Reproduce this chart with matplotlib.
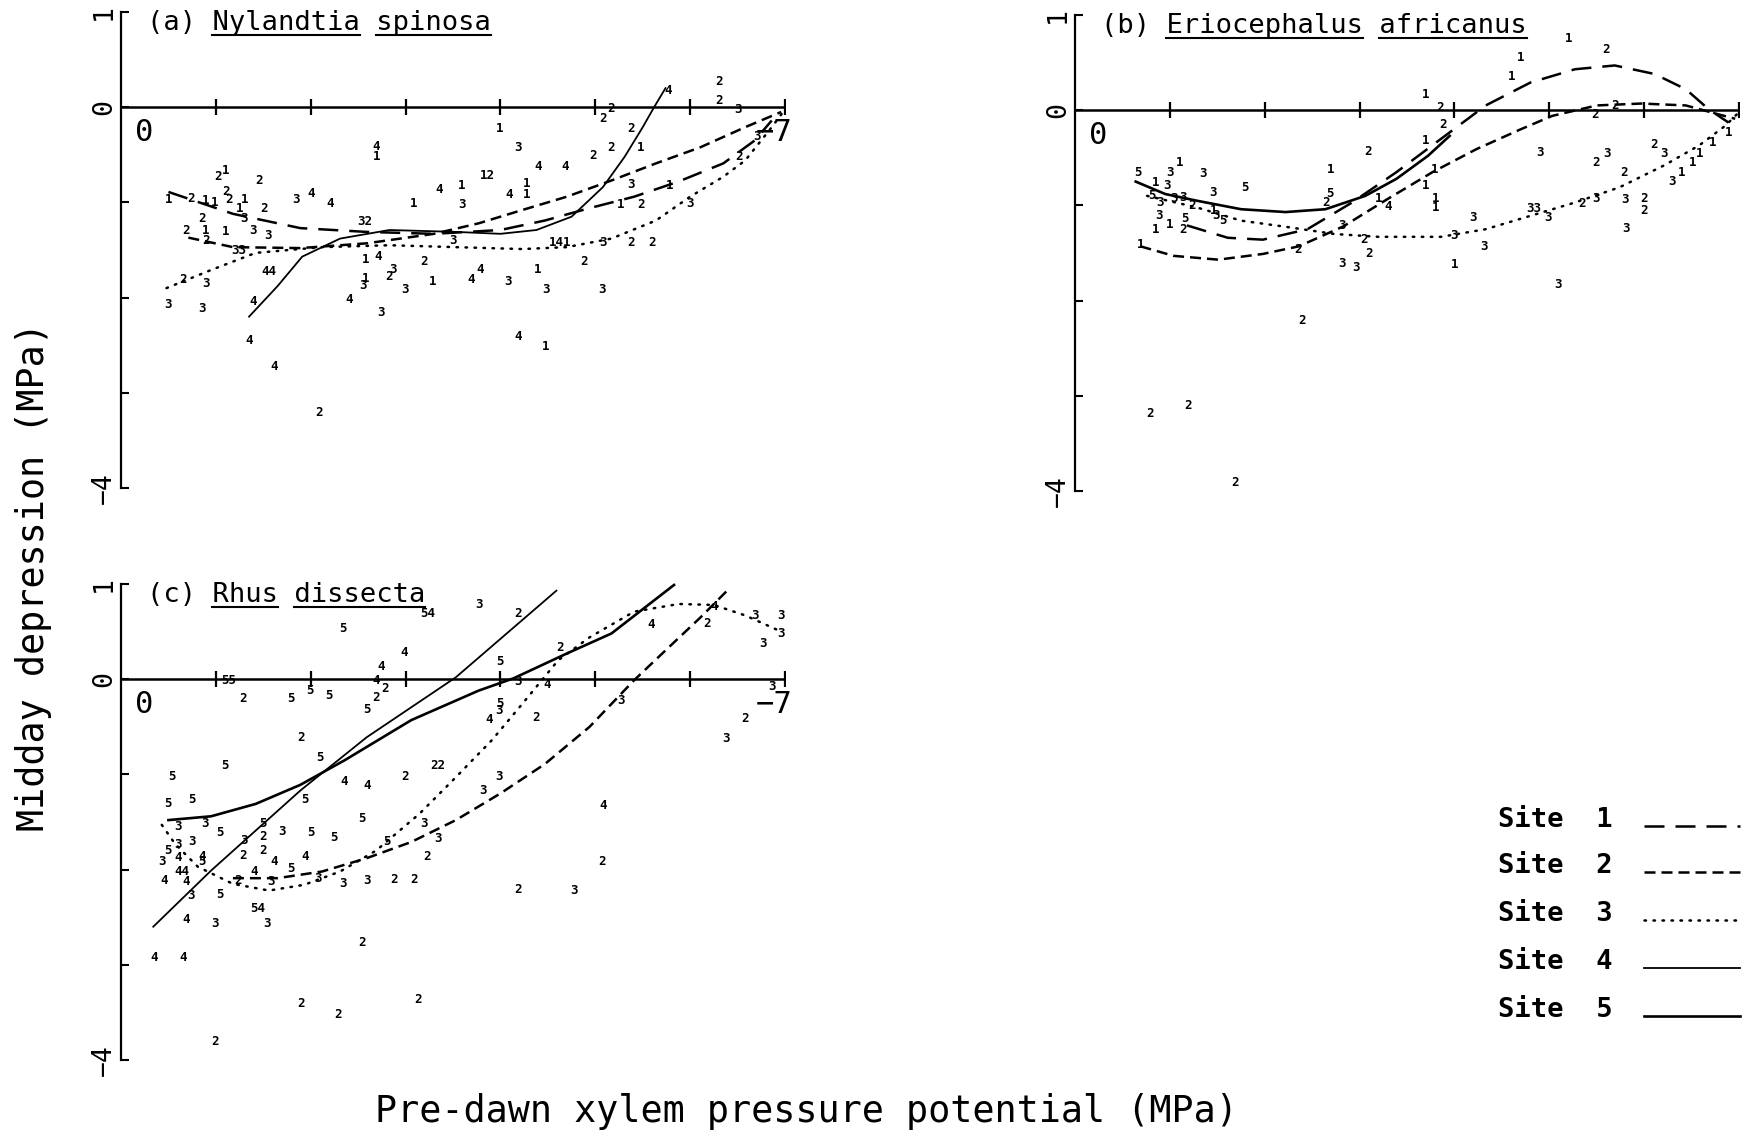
import numpy as np
import matplotlib
matplotlib.use('Agg')
import matplotlib.pyplot as plt
from matplotlib.lines import Line2D

plt.rcParams['font.family'] = ['DejaVu Sans Mono', 'DejaVu Sans']

# ---------------- (a) Nylandtia spinosa ----------------
a_site = ['2', '2', '3', '2', '2', '1', '2', '3', '4', '1', '2', '1', '2', '4', '4', '12', '1', '4',
          '3', '4', '1', '1', '1', '4', '3', '4', '2', '2', '1', '1', '2', '1', '1', '2', '1', '2',
          '2', '1', '2', '3', '2', '1', '1', '3', '3', '2', '33', '32', '3', '1', '4', '2', '141', '3',
          '2', '2', '2', '4', '4', '3', '1', '3', '3', '1', '3', '2', '1', '3', '3', '3', '4', '2',
          '3', '3', '3', '4', '44', '4', '4', '2', '4', '1', '4', '2', '3', '1', '3', '1', '2', '3']
a_pre = [-6.30, -6.30, -6.50, -5.08, -5.17, -3.99, -5.38, -4.19, -2.69, -2.69, -5.17, -5.48, -4.98,
         -4.40, -4.68, -3.86, -3.59, -3.35, -3.59, -4.09, -4.28, -4.28, -3.08, -2.20, -1.85, -2.00,
         -1.46, -1.02, -1.10, -0.50, -0.74, -0.89, -0.99, -1.14, -1.30, -1.11, -1.51, -1.25, -0.85,
         -1.30, -0.69, -0.89, -1.10, -1.39, -1.55, -0.90, -1.24, -2.57, -3.50, -2.58, -2.71, -3.19,
         -4.63, -5.08, -5.38, -5.60, -4.88, -3.79, -3.69, -4.08, -4.39, -4.48, -5.07, -3.29, -2.87,
         -2.83, -2.58, -2.55, -2.99, -2.74, -2.40, -0.65, -0.90, -0.50, -0.85, -1.39, -1.56, -1.35,
         -1.61, -2.09, -4.19, -4.48, -5.77, -6.51, -6.70, -5.78, -5.38, -5.27, -5.48, -6.00]
a_mid = [0.27, 0.07, -0.02, -0.12, -0.01, -0.22, -0.22, -0.42, -0.41, -0.52, -0.42, -0.42, -0.51,
         -0.62, -0.62, -0.72, -0.82, -0.86, -1.02, -0.92, -0.92, -0.80, -1.01, -1.01, -0.97, -0.91,
         -0.77, -0.73, -0.66, -0.97, -0.96, -0.98, -1.00, -0.97, -0.97, -0.89, -1.06, -1.06, -1.17,
         -1.17, -1.29, -1.29, -1.31, -1.30, -1.35, -1.40, -1.50, -1.20, -1.40, -1.60, -1.57, -1.62,
         -1.42, -1.42, -1.42, -1.42, -1.62, -1.71, -1.81, -1.83, -1.71, -1.91, -1.92, -1.83, -1.70,
         -1.78, -1.80, -1.87, -1.91, -2.16, -2.02, -1.81, -1.85, -2.07, -2.11, -2.04, -1.73, -2.45,
         -2.72, -3.21, -2.41, -2.51, 0.18, -0.52, -0.31, -0.82, -0.81, -1.02, -1.02, -1.01]

a1_x = [-0.50, -1.18, -1.89, -2.59, -3.30, -4.00, -4.47, -4.94, -5.41, -5.88, -6.35, -6.68, -6.86]
a1_y = [-0.89, -1.12, -1.27, -1.31, -1.33, -1.29, -1.19, -1.06, -0.94, -0.78, -0.59, -0.35, -0.14]
a2_x = [-0.71, -1.18, -1.89, -2.59, -3.30, -3.77, -4.23, -4.70, -5.17, -5.64, -6.11, -6.58, -6.96]
a2_y = [-1.37, -1.47, -1.48, -1.43, -1.33, -1.22, -1.08, -0.94, -0.77, -0.59, -0.42, -0.21, -0.05]
a3_x = [-0.48, -0.95, -1.42, -2.12, -2.83, -3.53, -4.23, -4.70, -5.17, -5.64, -6.00, -6.35, -6.58,
        -6.86, -6.98]
a3_y = [-1.90, -1.71, -1.53, -1.47, -1.45, -1.47, -1.49, -1.47, -1.38, -1.19, -0.94, -0.73, -0.56,
        -0.21, -0.05]
a4_x = [-1.35, -1.65, -1.91, -2.31, -2.83, -3.53, -4.00, -4.38, -4.75, -5.08, -5.31, -5.50, -5.62, -5.74]
a4_y = [-2.20, -1.88, -1.57, -1.38, -1.29, -1.31, -1.33, -1.29, -1.15, -0.84, -0.52, -0.21, 0.00, 0.20]

# ---------------- (b) Eriocephalus africanus ----------------
b_site = ['1', '2', '1', '1', '1', '2', '2', '2', '2', '1', '2', '1', '3', '2', '3', '2', '2', '3',
          '1', '1', '1', '3', '1', '1', '1', '1', '4', '1', '5', '2', '5', '3', '1', '3', '3', '5',
          '1', '3', '5', '3', '3', '3', '2', '3', '1', '1', '2', '5', '3', '5', '1', '1', '3', '2',
          '2', '2', '3', '3', '3', '3', '3', '1', '33', '3', '2', '3', '3', '2', '2', '3', '3', '2',
          '2', '2', '2', '1', '1']
b_pre = [-5.20, -5.60, -4.70, -4.60, -3.70, -3.85, -3.88, -5.48, -5.69, -3.70, -3.09, -2.69, -4.90,
         -5.49, -5.61, -5.79, -6.10, -6.21, -6.59, -6.51, -6.39, -6.29, -3.79, -3.70, -3.80, -3.80,
         -3.30, -3.20, -2.69, -2.65, -0.66, -1.00, -1.10, -1.35, -1.46, -1.79, -0.85, -0.97, -0.81,
         -0.90, -1.04, -1.14, -1.23, -0.89, -0.85, -1.00, -1.14, -1.16, -1.49, -1.56, -1.46, -0.69,
         -2.82, -3.05, -3.10, -2.35, -2.81, -2.96, -4.00, -4.20, -4.31, -4.00, -4.84, -4.99, -5.34,
         -5.49, -5.80, -6.00, -6.00, -5.81, -5.09, -2.39, -0.79, -1.19, -1.69, -6.72, -6.89]
b_mid = [0.75, 0.64, 0.55, 0.35, 0.17, 0.03, -0.15, -0.04, 0.05, -0.32, -0.43, -0.62, -0.44,
         -0.55, -0.45, -0.65, -0.36, -0.45, -0.45, -0.55, -0.65, -0.75, -0.62, -0.79, -0.93, -1.02,
         -1.01, -0.93, -0.88, -0.97, -0.65, -0.65, -0.55, -0.66, -0.86, -0.81, -0.76, -0.79, -0.90,
         -0.97, -0.93, -0.92, -1.00, -1.11, -1.25, -1.20, -1.25, -1.14, -1.11, -1.16, -1.05, -1.41,
         -1.21, -1.36, -1.51, -1.46, -1.61, -1.65, -1.32, -1.13, -1.43, -1.62, -1.03, -1.13, -0.98,
         -0.93, -0.94, -0.93, -1.05, -1.24, -1.83, -2.21, -3.19, -3.10, -3.91, -0.34, -0.23]

b1_x = [-1.18, -1.61, -1.98, -2.45, -2.92, -3.39, -3.86, -4.33, -4.80, -5.27, -5.69, -6.11, -6.44,
        -6.68, -6.89]
b1_y = [-1.21, -1.34, -1.36, -1.25, -0.97, -0.65, -0.30, 0.05, 0.29, 0.43, 0.47, 0.38, 0.22, 0.01, -0.13]
b2_x = [-0.69, -1.04, -1.51, -1.98, -2.36, -2.83, -3.30, -3.77, -4.23, -4.70, -5.03, -5.50, -5.97,
        -6.44, -6.77, -6.96]
b2_y = [-1.43, -1.53, -1.57, -1.51, -1.43, -1.22, -0.93, -0.65, -0.41, -0.20, -0.06, 0.05, 0.07,
        0.05, -0.04, -0.09]
b3_x = [-0.76, -1.28, -1.75, -2.26, -2.73, -3.20, -3.86, -4.33, -4.80, -5.27, -5.74, -6.21, -6.58,
        -6.86, -6.98]
b3_y = [-0.90, -1.02, -1.16, -1.23, -1.30, -1.33, -1.33, -1.25, -1.11, -0.97, -0.81, -0.58, -0.37,
        -0.16, -0.04]
b5_x = [-0.64, -0.95, -1.28, -1.75, -2.22, -2.64, -3.06, -3.39, -3.72, -3.95]
b5_y = [-0.75, -0.88, -0.95, -1.04, -1.07, -1.04, -0.90, -0.72, -0.48, -0.27]

# ---------------- (c) Rhus dissecta ----------------
c_site = ['3', '2', '54', '5', '4', '4', '5', '2', '4', '2', '3', '3', '3', '3', '4', '55', '2', '5',
          '5', '5', '4', '2', '2', '5', '5', '3', '4', '2', '3', '4', '3', '2', '3', '3', '2', '5',
          '5', '5', '4', '4', '2', '22', '3', '3', '4', '5', '5', '5', '5', '3', '3', '5', '2', '2',
          '2', '3', '2', '2', '2', '2', '2', '4', '4', '4', '3', '3', '54', '3', '5', '4', '44', '4',
          '3', '4', '5', '3', '3', '4', '5', '3', '3', '5', '3', '2', '2', '5', '3', '2', '5', '5',
          '4', '4', '4', '2', '3', '3', '3', '3', '2', '2', '5']
c_pre = [-3.77, -4.18, -3.23, -2.34, -2.99, -2.74, -3.99, -4.63, -5.59, -6.18, -6.68, -6.96, -6.77,
         -6.96, -6.25, -1.14, -1.29, -1.79, -1.99, -2.19, -2.69, -2.78, -2.69, -2.59, -3.99, -3.99,
         -3.88, -4.38, -4.19, -4.49, -5.27, -6.58, -6.38, -6.86, -1.90, -2.10, -1.10, -0.54, -2.35,
         -2.59, -2.99, -3.34, -3.99, -3.82, -5.08, -0.50, -0.75, -1.94, -2.54, -3.19, -3.34, -2.80,
         -3.23, -5.07, -4.18, -4.78, -2.54, -1.90, -2.29, -3.13, -0.99, -0.35, -0.65, -0.69, -0.99,
         -1.54, -1.44, -0.74, -1.04, -0.45, -0.64, -0.69, -0.43, -0.60, -0.50, -0.60, -0.75, -0.85,
         -0.85, -0.60, -0.89, -1.04, -1.30, -1.29, -1.50, -1.50, -1.70, -1.50, -2.00, -2.25, -1.61,
         -1.94, -1.40, -1.23, -1.58, -2.08, -2.34, -2.59, -2.88, -3.09, -1.79]
c_mid = [0.78, 0.69, 0.69, 0.53, 0.28, 0.13, 0.19, 0.33, 0.57, 0.58, 0.67, 0.67, 0.37, 0.48, 0.76,
         -0.01, -0.20, -0.20, -0.12, -0.17, -0.01, -0.10, -0.19, -0.32, -0.26, -0.33, -0.42, -0.40,
         -0.02, -0.06, -0.22, -0.41, -0.62, -0.08, -0.61, -0.82, -0.91, -1.02, -1.07, -1.12, -1.02,
         -0.91, -1.02, -1.17, -1.33, -1.31, -1.26, -1.26, -1.46, -1.52, -1.67, -1.71, -1.86, -1.91,
         -2.21, -2.22, -2.77, -3.41, -3.52, -3.36, -3.81, -2.92, -2.92, -2.52, -2.57, -2.57, -2.41,
         -2.27, -2.26, -2.11, -2.02, -2.13, -1.92, -1.87, -1.80, -1.74, -1.71, -1.86, -1.92, -1.55,
         -1.52, -1.61, -1.69, -1.85, -1.80, -1.52, -1.60, -1.65, -1.61, -1.66, -1.92, -1.86, -2.02,
         -2.11, -2.12, -2.09, -2.15, -2.11, -2.10, -2.10, -1.99]

c2_x = [-1.18, -1.65, -2.12, -2.59, -3.06, -3.53, -4.00, -4.47, -4.94, -5.41, -5.78, -6.11, -6.39]
c2_y = [-2.09, -2.09, -2.02, -1.88, -1.71, -1.48, -1.20, -0.89, -0.50, -0.01, 0.34, 0.65, 0.93]
c3_x = [-0.43, -0.57, -0.81, -1.18, -1.56, -1.93, -2.31, -2.69, -3.15, -3.53, -3.91, -4.23, -4.61,
        -4.94, -5.41, -5.88, -6.25, -6.58, -6.96]
c3_y = [-1.53, -1.73, -1.97, -2.15, -2.22, -2.16, -2.02, -1.80, -1.41, -1.03, -0.64, -0.26, 0.20,
        0.44, 0.71, 0.79, 0.78, 0.67, 0.50]
c4_x = [-0.34, -0.95, -1.89, -2.59, -3.53, -4.59]
c4_y = [-2.60, -2.01, -1.17, -0.61, 0.02, 0.93]
c5_x = [-0.50, -0.95, -1.42, -1.89, -2.36, -3.06, -3.77, -4.14, -4.70, -5.17, -5.83]
c5_y = [-1.48, -1.44, -1.31, -1.11, -0.85, -0.43, -0.12, 0.01, 0.27, 0.48, 0.99]

sites = [1, 2, 3, 4, 5]

# line style for each site's fitted curve
STYLE = {
    1: dict(ls=(0, (8, 4.4)), lw=1.8),
    2: dict(ls=(0, (4.4, 2.4)), lw=1.8),
    3: dict(ls=(0, (0.6, 3.0)), lw=1.8, dash_capstyle='round'),
    4: dict(ls='-', lw=1.3),
    5: dict(ls='-', lw=1.9),
}

W, H = 1744, 1142
fig = plt.figure(figsize=(W / 100, H / 100), dpi=100)


def px_rect(x0, y_top, x1, y_bot):
    return [x0 / W, 1 - y_bot / H, (x1 - x0) / W, (y_bot - y_top) / H]


ax_a = fig.add_axes(px_rect(121, 12, 785, 488))
ax_b = fig.add_axes(px_rect(1075, 15, 1739, 491))
ax_c = fig.add_axes(px_rect(121, 584, 785, 1060))

titles = []


def setup(ax, tag, species, end_label=True):
    ax.set_xlim(0, -7)
    ax.set_ylim(-4, 1)
    ax.patch.set_visible(False)
    for s in ['top', 'right', 'bottom']:
        ax.spines[s].set_visible(False)
    ax.spines['left'].set_linewidth(1.6)
    ax.set_xticks([])
    ax.set_yticks([1, 0, -1, -2, -3, -4])
    ax.set_yticklabels(['1', '0', '', '', '', '\u22124'], rotation=90, fontsize=19, va='center')
    ax.tick_params(axis='y', direction='in', length=6, width=1.5, pad=3)
    # horizontal zero line with cross ticks
    ax.axhline(0, color='k', lw=1.8)
    ax.plot(np.arange(-1, -8, -1), np.zeros(7), ls='none', marker='|', ms=11, mew=1.6, color='k')
    ax.text(-0.24, -0.27, '0', fontsize=22, ha='center', va='center')
    if end_label:
        ax.text(-6.88, -0.27, '\u22127', fontsize=22, ha='center', va='center')
    t = ax.text(0.039, 0.963, f'{tag} {species}', transform=ax.transAxes,
                fontsize=19.5, ha='left', va='baseline')
    titles.append((ax, t))


setup(ax_a, '(a)', 'Nylandtia spinosa')
setup(ax_b, '(b)', 'Eriocephalus africanus', end_label=False)
setup(ax_c, '(c)', 'Rhus dissecta')


def digits(ax, labels, xs, ys):
    for s, x, y in zip(labels, xs, ys):
        ax.text(x, y, s, fontsize=9, fontweight='bold', ha='center', va='center', clip_on=False)


digits(ax_a, a_site, a_pre, a_mid)
digits(ax_b, b_site, b_pre, b_mid)
digits(ax_c, c_site, c_pre, c_mid)

for ax, site, xs, ys in [(ax_a, 1, a1_x, a1_y), (ax_a, 2, a2_x, a2_y), (ax_a, 3, a3_x, a3_y),
                         (ax_a, 4, a4_x, a4_y),
                         (ax_b, 1, b1_x, b1_y), (ax_b, 2, b2_x, b2_y), (ax_b, 3, b3_x, b3_y),
                         (ax_b, 5, b5_x, b5_y),
                         (ax_c, 2, c2_x, c2_y), (ax_c, 3, c3_x, c3_y), (ax_c, 4, c4_x, c4_y),
                         (ax_c, 5, c5_x, c5_y)]:
    st = STYLE[site]
    ax.plot(xs, ys, color='k', linestyle=st['ls'], lw=st['lw'],
            dash_capstyle=st.get('dash_capstyle', 'butt'), clip_on=False)

# underline species names word by word (monospace -> fixed char width)
renderer = fig.canvas.get_renderer()
for ax, t in titles:
    txt = t.get_text()
    bb = t.get_window_extent(renderer=renderer)
    cw = bb.width / len(txt)
    base_y = ax.transAxes.transform(t.get_position())[1] - 5
    pos = 0
    for k, word in enumerate(txt.split(' ')):
        if k > 0:
            x0 = bb.x0 + pos * cw
            x1 = x0 + len(word) * cw
            fig.add_artist(Line2D([x0 / W, x1 / W], [base_y / H] * 2,
                                  transform=fig.transFigure, color='k', lw=1.5))
        pos += len(word) + 1

# legend on the lower right
rows = [820, 866, 914, 962, 1010]
for site, yr in zip(sites, rows):
    fig.text(1498 / W, 1 - yr / H, f'Site  {site}', fontsize=19.5, fontweight='bold',
             ha='left', va='center')
    st = STYLE[site]
    fig.add_artist(Line2D([1644 / W, 1740 / W], [1 - (yr + 6) / H] * 2, transform=fig.transFigure,
                          color='k', linestyle=st['ls'], lw=st['lw'],
                          dash_capstyle=st.get('dash_capstyle', 'butt')))

fig.text(806 / W, 1 - 1112 / H, 'Pre-dawn xylem pressure potential (MPa)', fontsize=26.5,
         ha='center', va='center')
fig.text(34 / W, 1 - 577 / H, 'Midday depression (MPa)', fontsize=26.5, rotation=90,
         ha='center', va='center')

fig.savefig('out.png', dpi=100, facecolor='white')
